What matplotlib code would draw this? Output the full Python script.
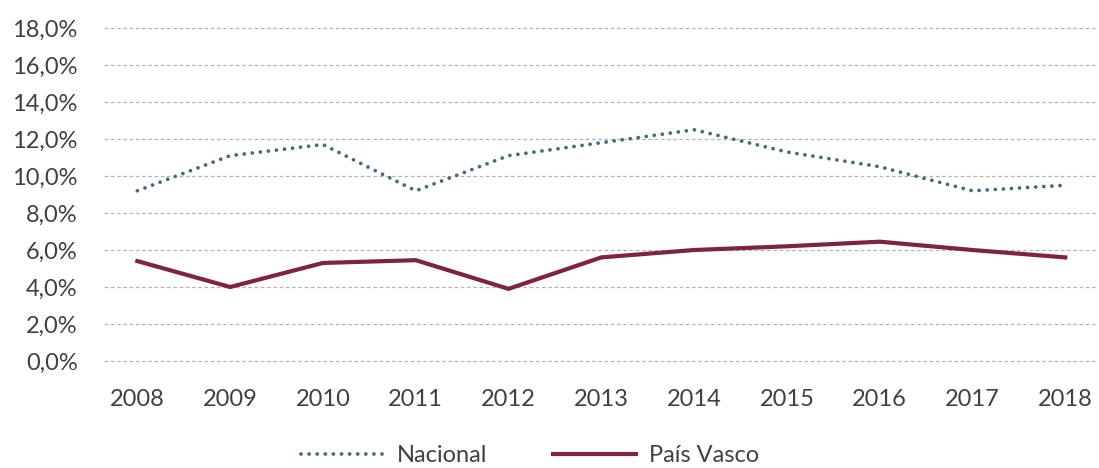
import matplotlib.pyplot as plt
from matplotlib.ticker import FuncFormatter

years = ['2008', '2009', '2010', '2011', '2012', '2013', '2014', '2015', '2016', '2017', '2018']
nacional = [9.2, 11.1, 11.7, 9.2, 11.1, 11.8, 12.5, 11.3, 10.5, 9.2, 9.5]
pais_vasco = [5.4, 4.0, 5.3, 5.45, 3.9, 5.6, 6.0, 6.2, 6.45, 6.0, 5.6]

plt.rcParams['font.family'] = ['Lato', 'DejaVu Sans']

fig = plt.figure(figsize=(10.99, 4.68), dpi=100)
ax = fig.add_axes([0.0946, 0.2286, 0.9034, 0.7116])

x = range(len(years))
ax.plot(x, nacional, color='#3f6b80', lw=2.7, linestyle=(0, (0.01, 2.15)),
        dash_capstyle='round', label='Nacional')
ax.plot(x, pais_vasco, color='#7f2243', lw=3, solid_joinstyle='miter', label='País Vasco')

ax.set_ylim(0, 18)
ax.set_xlim(-0.36, 10.34)
ax.set_yticks(range(0, 19, 2))
ax.yaxis.set_major_formatter(FuncFormatter(lambda v, p: f'{v:.1f}%'.replace('.', ',')))
ax.set_xticks(list(x))
ax.set_xticklabels(years)

ax.grid(axis='y', color='#b5b5b5', linestyle=(0, (3, 2)), lw=0.9)
for gl in ax.get_ygridlines():
    gl.set_clip_on(False)
for s in ax.spines.values():
    s.set_visible(False)
ax.tick_params(length=0, labelsize=17, labelcolor='#404040')
ax.tick_params(axis='y', pad=19)
ax.tick_params(axis='x', pad=20)

leg = fig.legend(loc='lower center', bbox_to_anchor=(0.482, -0.042), ncol=2, frameon=False,
                 fontsize=17, handlelength=3.5, columnspacing=2.8, handletextpad=0.55)
for t in leg.get_texts():
    t.set_color('#404040')

fig.savefig('out.png', dpi=100)
